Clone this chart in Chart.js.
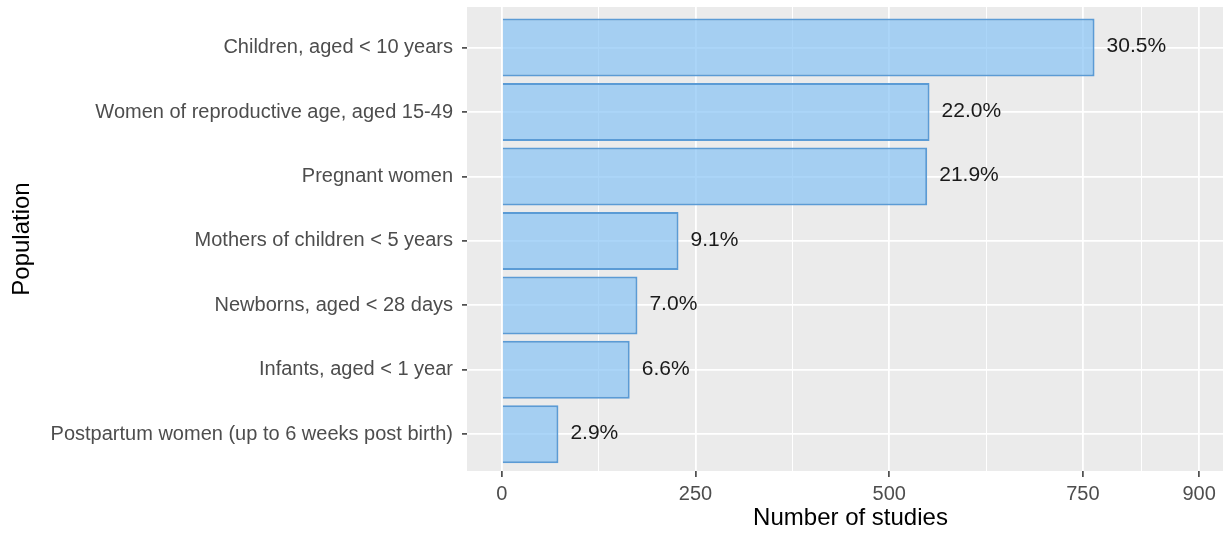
<!DOCTYPE html>
<html>
<head>
<meta charset="utf-8">
<script src="https://cdn.jsdelivr.net/npm/chart.js@4/dist/chart.umd.min.js"></script>
<style>
  html, body { margin: 0; padding: 0; background: #fff; overflow: hidden; }
  /* the original panel runs past the right edge of the picture, so it is clipped */
  #wrap { width: 1223px; height: 534px; overflow: hidden; }
</style>
</head>
<body>
<div id="wrap"><canvas id="studyChart" width="1234" height="534"></canvas></div>
<script>
// ========== Data ==========
const populations = [
    'Children, aged < 10 years',
    'Women of reproductive age, aged 15-49',
    'Pregnant women',
    'Mothers of children < 5 years',
    'Newborns, aged < 28 days',
    'Infants, aged < 1 year',
    'Postpartum women (up to 6 weeks post birth)'
];
const studyCounts = [765, 552, 549, 228, 175, 165, 73];
const shareLabels = ['30.5%', '22.0%', '21.9%', '9.1%', '7.0%', '6.6%', '2.9%'];
const xMajorTicks = [0, 250, 500, 750, 900];
const xMinorTicks = [125, 375, 625, 825];

const FONT = '"Liberation Sans", Arial, sans-serif';
Chart.defaults.font.family = FONT;

// ========== Grey panel behind the bars ==========
const panelBackground = {
    id: 'panelBackground',
    beforeDraw(chart) {
        const { ctx, chartArea: a } = chart;
        ctx.save();
        ctx.fillStyle = '#EBEBEB';
        ctx.fillRect(a.left, a.top, a.right - a.left, a.bottom - a.top);
        ctx.restore();
    }
};

// ========== Percentage text next to each bar ==========
const shareText = {
    id: 'shareText',
    afterDatasetsDraw(chart) {
        const { ctx, scales: { x, y } } = chart;
        ctx.save();
        ctx.font = '21px ' + FONT;
        ctx.fillStyle = '#1A1A1A';
        ctx.textAlign = 'left';
        ctx.textBaseline = 'middle';
        studyCounts.forEach((v, i) => {
            ctx.fillText(shareLabels[i], x.getPixelForValue(v) + 12, y.getPixelForValue(i + 1) - 1);
        });
        ctx.restore();
    }
};

const isMajor = c => c.tick && xMajorTicks.includes(c.tick.value);

new Chart(document.getElementById('studyChart'), {
    type: 'bar',
    data: {
        datasets: [{
            data: studyCounts.map((v, i) => ({ x: v, y: i + 1 })),
            backgroundColor: 'rgba(135, 195, 245, 0.7)',
            borderColor: '#5B9BD5',
            borderWidth: 2,
            barPercentage: 0.9,
            categoryPercentage: 1
        }]
    },
    options: {
        indexAxis: 'y',
        responsive: false,
        animation: false,
        devicePixelRatio: 1,
        layout: { padding: { top: 7, right: 0, bottom: 0, left: 0 } },
        plugins: {
            legend: { display: false },
            tooltip: { enabled: false }
        },
        scales: {
            x: {
                type: 'linear',
                min: -45,
                max: 945,
                afterBuildTicks: s => {
                    s.ticks = xMajorTicks.concat(xMinorTicks).sort((a, b) => a - b).map(v => ({ value: v }));
                },
                afterFit: s => { s.height = 63; s.paddingLeft = 0; s.paddingRight = 0; },
                border: { display: false },
                grid: {
                    color: '#FFFFFF',
                    lineWidth: c => isMajor(c) ? 1.8 : 1,
                    tickColor: c => isMajor(c) ? '#333333' : 'rgba(0,0,0,0)',
                    tickLength: 6,
                    tickWidth: 1.5
                },
                ticks: {
                    autoSkip: false,
                    maxRotation: 0,
                    padding: 5,
                    color: '#4D4D4D',
                    font: { size: 20 },
                    callback: v => xMajorTicks.includes(v) ? String(v) : ''
                },
                title: {
                    display: true,
                    text: 'Number of studies',
                    color: '#000000',
                    font: { size: 24 },
                    padding: { top: 0, bottom: 1 }
                }
            },
            y: {
                type: 'linear',
                reverse: true,
                offset: false,
                min: 0.37,
                max: 7.57,
                afterBuildTicks: s => {
                    s.ticks = populations.map((_, i) => ({ value: i + 1 }));
                },
                afterFit: s => { s.width = 467; s.paddingTop = 0; s.paddingBottom = 0; },
                border: { display: false },
                grid: {
                    offset: false,
                    color: '#FFFFFF',
                    lineWidth: 1.8,
                    tickColor: '#333333',
                    tickLength: 5,
                    tickWidth: 1.5
                },
                ticks: {
                    autoSkip: false,
                    padding: 9,
                    color: '#4D4D4D',
                    font: { size: 20 },
                    callback: v => populations[v - 1]
                },
                title: {
                    display: true,
                    text: 'Population',
                    color: '#000000',
                    font: { size: 24 },
                    padding: { top: 8, bottom: 0 }
                }
            }
        }
    },
    plugins: [panelBackground, shareText]
});
</script>
</body>
</html>
